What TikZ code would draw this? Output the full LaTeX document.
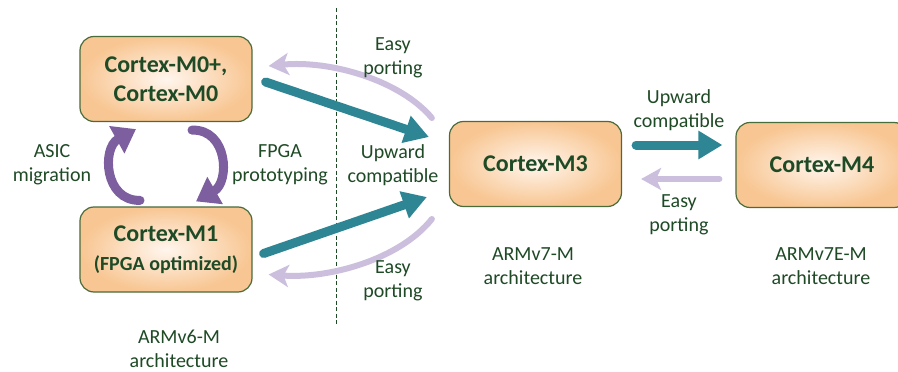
\documentclass[tikz,border=0pt]{standalone}
\usepackage{fontspec}
\setmainfont{Carlito}
\usetikzlibrary{arrows.meta,calc}
\definecolor{txt}{HTML}{1F4A26}
\definecolor{boxline}{HTML}{4A6B3A}
\definecolor{peach}{HTML}{F8C692}
\definecolor{peachin}{HTML}{FFF6EE}
\definecolor{teal}{HTML}{2E8593}
\definecolor{violet}{HTML}{7D5FA0}
\definecolor{lilac}{HTML}{CBBFDD}
\tikzset{
  cbox/.style={draw=boxline, line width=1.2pt, rounded corners=14pt,
    inner color=peachin, outer color=peach,
    minimum width=172pt, minimum height=85pt, align=center, text=txt,
    font=\bfseries\fontsize{24}{29}\selectfont},
  lbl/.style={text=txt, align=center, font=\fontsize{20}{24}\selectfont, inner sep=1pt},
  upar/.style={draw=teal, line width=9pt, line cap=round,
    -{Triangle[width=27pt,length=24pt]}},
  easyar/.style={draw=lilac, line width=6pt, line cap=round,
    -{Stealth[width=22pt,length=20pt,inset=5pt]}},
  loopar/.style={draw=violet, line width=9pt, line cap=round,
    -{Triangle[width=30pt,length=22pt]}},
  divider/.style={draw=txt, line width=1pt, dash pattern=on 4pt off 2.5pt}
}
\begin{document}
\begin{tikzpicture}[x=1pt,y=-1pt]
\clip (0,0) rectangle (898,372);
\fill[white] (0,0) rectangle (898,372);

\coordinate (dtop) at (336,8);
\coordinate (dbot) at (336,325);
\draw[divider] (dtop) -- (dbot);

\node[cbox] (m0) at (166,79) {Cortex-M0+,\\Cortex-M0};
\node[cbox] (m1) at (166,249.5) {Cortex-M1\\{\fontsize{20}{24}\selectfont (FPGA optimized)}};
\node[cbox] (m3) at (535.5,164) {Cortex-M3};
\node[cbox] (m4) at (822,165) {Cortex-M4};

% upward compatible arrows
\draw[upar] ($(m0.east)+(13,3)$) -- ($(m3.west)+(-20,-27)$);
\draw[upar] ($(m1.east)+(11,4)$) -- ($(m3.west)+(-22,33)$);
\draw[upar] ($(m3.east)+(14,-19)$) -- ($(m4.west)+(-13,-20)$);

% easy porting arrows
\draw[easyar] ($(m3.west)+(-17,-46)$) .. controls (400,80) and (330,60) .. ($(m0.east)+(16,-13)$);
\draw[easyar] ($(m3.west)+(-17,55)$) .. controls (400,259) and (330,279) .. ($(m1.east)+(16,25)$);
\draw[easyar] ($(m4.west)+(-16,14)$) -- ($(m3.east)+(19,15)$);

% ASIC migration / FPGA prototyping loops
\draw[loopar] ($(m1.north)+(-26,-6)$) .. controls (104,201) and (102,148) .. ($(m0.south)+(-30,7)$);
\draw[loopar] ($(m0.south)+(26,8)$) .. controls (228,129) and (230,182) .. ($(m1.north)+(30,-5)$);

% labels
\node[lbl] (asic) at (52,165) {ASIC\\migration};
\node[lbl] (fpga) at (280,165) {FPGA\\prototyping};
\node[lbl] (upc) at (393,165) {Upward\\compatible};
\node[lbl] (ept) at (393,58) {Easy\\porting};
\node[lbl] (epb) at (393,281) {Easy\\porting};
\node[lbl] (upr) at (679,110) {Upward\\compatible};
\node[lbl] (epr) at (679,215) {Easy\\porting};
\node[lbl] (a7) at (533,266) {ARMv7-M\\architecture};
\node[lbl] (a7e) at (821,266) {ARMv7E-M\\architecture};
\node[lbl] (a6) at (179,349) {ARMv6-M\\architecture};
\end{tikzpicture}
\end{document}
